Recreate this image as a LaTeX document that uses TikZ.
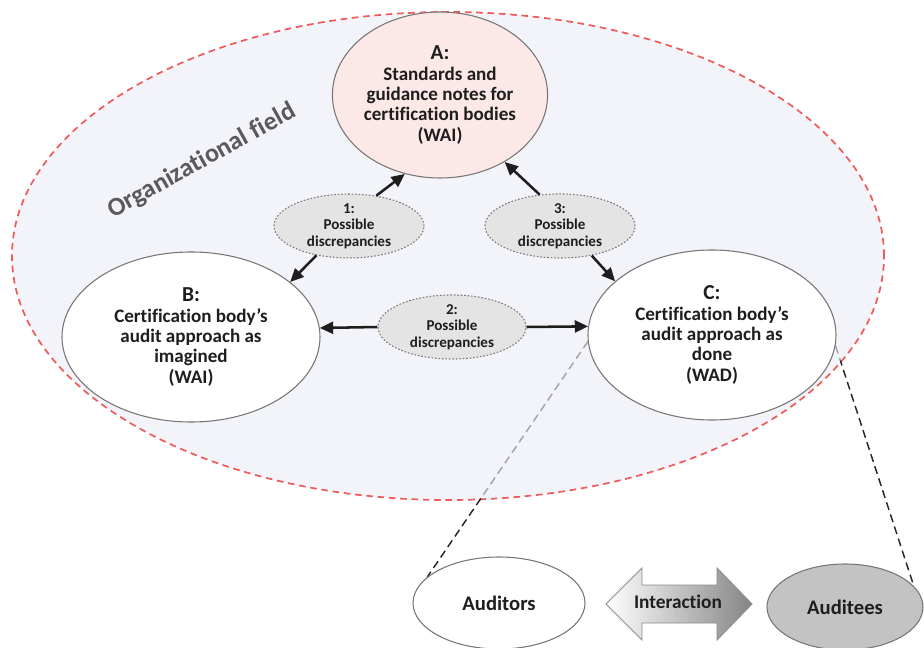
\documentclass[tikz,border=0pt]{standalone}
\usepackage{fontspec}
\setmainfont{Carlito}[Ligatures=NoCommon]
\usetikzlibrary{shapes.geometric,arrows.meta}

\definecolor{fieldfill}{HTML}{F3F4FA}
\definecolor{fieldline}{HTML}{EF5A5A}
\definecolor{pinkfill}{HTML}{FDE8E8}
\definecolor{discfill}{HTML}{E4E4E4}
\definecolor{rim}{HTML}{767676}
\definecolor{ink}{HTML}{1E1E1E}
\definecolor{orgtext}{HTML}{5A5A5A}
\definecolor{auditeefill}{HTML}{C3C3C3}
\definecolor{arrowgray}{HTML}{8C8C8C}

\pgfdeclarelayer{bg}
\pgfdeclarelayer{lines}
\pgfdeclarelayer{veil}
\pgfsetlayers{bg,lines,veil,main}

\begin{document}
\begin{tikzpicture}[x=0.75pt,y=-0.75pt,
  oval/.style={ellipse, draw=rim, line width=0.8pt, inner sep=0pt, align=center,
    text=ink, font=\bfseries\fontsize{14.3}{15.3}\selectfont},
  disc/.style={ellipse, draw=rim, line width=0.8pt, dash pattern=on 1.2pt off 1.4pt,
    fill=discfill, inner sep=0pt, align=center, text=ink,
    font=\bfseries\fontsize{11.3}{12.4}\selectfont},
  link/.style={-{Triangle[length=10pt,width=9pt]}, line width=1.9pt, draw=ink},
  zoomline/.style={line width=1.1pt, dash pattern=on 6pt off 3.5pt, draw=black!85},
  fieldshape/.style={ellipse, inner sep=0pt, minimum width=654pt, minimum height=366pt},
  letter/.style={font=\bfseries\fontsize{16}{17}\selectfont}
]
\useasboundingbox (0,0) rectangle (924,648);

% organizational field: filled ellipse with a red dashed rim
\begin{pgfonlayer}{bg}
  \node[fieldshape, fill=fieldfill, draw=fieldline, line width=1.3pt,
        dash pattern=on 5pt off 3.5pt] (field) at (448,256) {};
\end{pgfonlayer}

\node[rotate=29, text=orgtext, font=\bfseries\fontsize{19.5}{21}\selectfont]
  (orgname) at (202,161) {Organizational field};

% the three views of the audit approach
\node[oval, fill=pinkfill, minimum width=157.5pt, minimum height=124.5pt] (A) at (440,95)
  {{\fontsize{16}{17}\selectfont A:}\\Standards and\\guidance notes for\\certification bodies\\(WAI)};
\node[oval, fill=white, minimum width=193.5pt, minimum height=127.5pt] (B) at (191,337)
  {{\fontsize{16}{17}\selectfont B:}\\Certification body’s\\audit approach as\\imagined\\(WAI)};
\node[oval, fill=white, minimum width=186pt, minimum height=127.5pt] (C) at (712,335)
  {{\fontsize{16}{17}\selectfont C:}\\Certification body’s\\audit approach as\\done\\(WAD)};

% possible discrepancies between them
\node[disc, minimum width=112.5pt, minimum height=40.5pt] (d1) at (349,226)
  {1:\\Possible\\discrepancies};
\node[disc, minimum width=112.5pt, minimum height=40.5pt] (d3) at (560,226)
  {3:\\Possible\\discrepancies};
\node[disc, minimum width=111pt, minimum height=43.5pt] (d2) at (452,327)
  {2:\\Possible\\discrepancies};

\draw[link] (d1.48) -- (A.246);
\draw[link] (d1.222) -- (B.29);
\draw[link] (d3.123) -- (A.314);
\draw[link] (d3.317) -- (C.151);
\draw[link] (d2.180) -- (B.4);
\draw[link] (d2.0) -- (C.176);

% the interaction level below
\node[oval, fill=white, minimum width=129pt, minimum height=69pt,
      font=\bfseries\fontsize{15.5}{17}\selectfont] (auditors) at (499,603) {Auditors};
\node[oval, fill=auditeefill, minimum width=117pt, minimum height=64.5pt,
      font=\bfseries\fontsize{15.5}{17}\selectfont] (auditees) at (845,607) {Auditees};

\draw[draw=arrowgray, line width=0.7pt, left color=white, right color=black!48]
  (606,604) -- (642,568) -- (642,585) -- (717,585) -- (717,568) -- (752,604)
  -- (717,640) -- (717,623) -- (642,623) -- (642,640) -- cycle;
\node[text=ink, font=\bfseries\fontsize{14.5}{16}\selectfont] (inter) at (678,602) {Interaction};

% zoom lines from C to the interaction level, veiled inside the field
\begin{pgfonlayer}{lines}
  \draw[zoomline] (C.183) -- (auditors.160);
  \draw[zoomline] (C.355) -- (auditees.17);
\end{pgfonlayer}
\begin{pgfonlayer}{veil}
  \node[ellipse, inner sep=0pt, minimum width=652pt, minimum height=364pt,
        fill=fieldfill, fill opacity=0.62] (fieldveil) at (field.center) {};
\end{pgfonlayer}
\end{tikzpicture}
\end{document}
